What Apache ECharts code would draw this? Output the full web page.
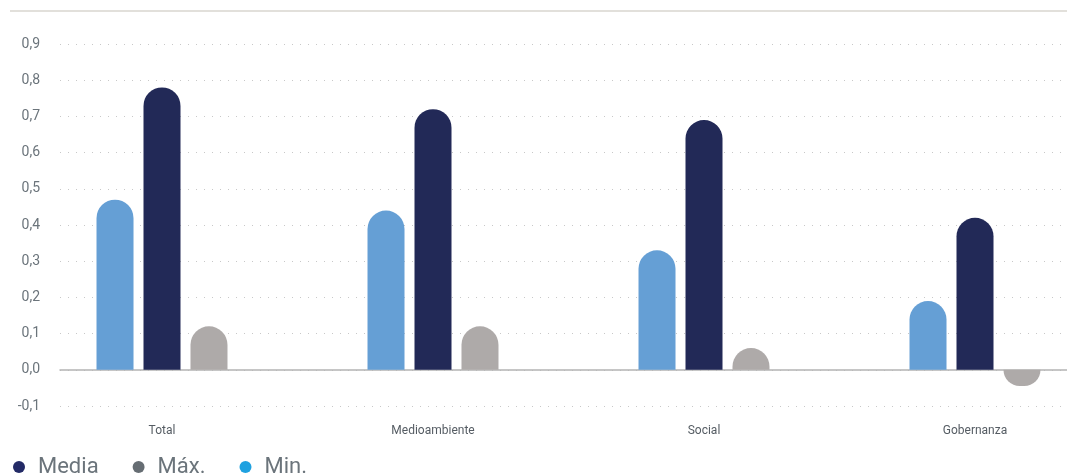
<!DOCTYPE html>
<html>
<head>
<meta charset="utf-8">
<script src="https://cdn.jsdelivr.net/npm/echarts@6/dist/echarts.min.js"></script>
<style>
  html, body { margin: 0; padding: 0; background: #fff; }
  #chart { width: 1067px; height: 476px; }
</style>
</head>
<body>
<div id="chart"></div>
<script>
const categories = ['Total', 'Medioambiente', 'Social', 'Gobernanza']
const minValues = [0.47, 0.44, 0.33, 0.19]
const mediaValues = [0.78, 0.72, 0.69, 0.42]
const maxValues = [0.12, 0.12, 0.06, -0.045]
const legendNames = ['Media', 'Máx.', 'Min.']
const legendColors = ['#232a66', '#666d73', '#1fa1e0']

const r = 18.5
function rounded (values) {
  return values.map(function (v) {
    return { value: v, itemStyle: { borderRadius: v >= 0 ? [r, r, 0, 0] : [0, 0, r, r] } }
  })
}

let mychart = echarts.init(document.getElementById('chart'))
mychart.setOption({
  backgroundColor: '#fff',
  textStyle: { fontFamily: 'Roboto' },
  animation: false,
  graphic: [{
    type: 'line',
    shape: { x1: 10, y1: 11, x2: 1067, y2: 11 },
    style: { stroke: '#d9d6cf', lineWidth: 1.5 }
  }],
  legend: {
    left: 8,
    top: 451,
    itemWidth: 12,
    itemHeight: 12,
    itemGap: 34,
    icon: 'circle',
    textStyle: { color: '#6b747b', fontSize: 22, fontFamily: 'Roboto', padding: [0, 0, 0, 8] },
    data: legendNames.map(function (n, i) {
      return { name: n, itemStyle: { color: legendColors[i] } }
    })
  },
  grid: [
    { left: 60, right: 0, top: 44, bottom: 70 },
    { left: 162, right: 92, top: 44, bottom: 70 }
  ],
  xAxis: [{
    gridIndex: 0,
    type: 'value',
    min: 0,
    max: 1,
    axisLabel: { show: false },
    axisTick: { show: false },
    splitLine: { show: false },
    axisLine: { show: true, onZero: true, lineStyle: { color: '#b4b4b4', width: 1.5 } }
  }, {
    gridIndex: 1,
    type: 'category',
    boundaryGap: false,
    data: categories,
    axisLine: { show: false },
    axisTick: { show: false },
    splitLine: { show: false },
    axisLabel: { color: '#555c63', fontSize: 12, margin: 19 }
  }],
  yAxis: [{
    gridIndex: 0,
    type: 'value',
    min: -0.1,
    max: 0.9,
    interval: 0.1,
    axisLine: { show: false },
    axisTick: { show: false },
    axisLabel: {
      color: '#6b747b',
      fontSize: 14,
      margin: 20,
      formatter: function (v) { return v.toFixed(1).replace('.', ',') }
    },
    splitLine: { lineStyle: { color: '#c8c8c8', type: [1, 7], width: 1 } }
  }, {
    gridIndex: 1,
    type: 'value',
    min: -0.1,
    max: 0.9,
    interval: 0.1,
    show: false
  }],
  series: [{
    name: 'Min.',
    type: 'bar',
    xAxisIndex: 1,
    yAxisIndex: 1,
    clip: false,
    barWidth: 37,
    barGap: '27%',
    itemStyle: { color: '#659fd5' },
    data: rounded(minValues)
  }, {
    name: 'Media',
    type: 'bar',
    xAxisIndex: 1,
    yAxisIndex: 1,
    clip: false,
    barWidth: 37,
    barGap: '27%',
    itemStyle: { color: '#222957' },
    data: rounded(mediaValues)
  }, {
    name: 'Máx.',
    type: 'bar',
    xAxisIndex: 1,
    yAxisIndex: 1,
    clip: false,
    barWidth: 37,
    barGap: '27%',
    itemStyle: { color: '#aeaaa9' },
    data: rounded(maxValues)
  }]
})
</script>
</body>
</html>
